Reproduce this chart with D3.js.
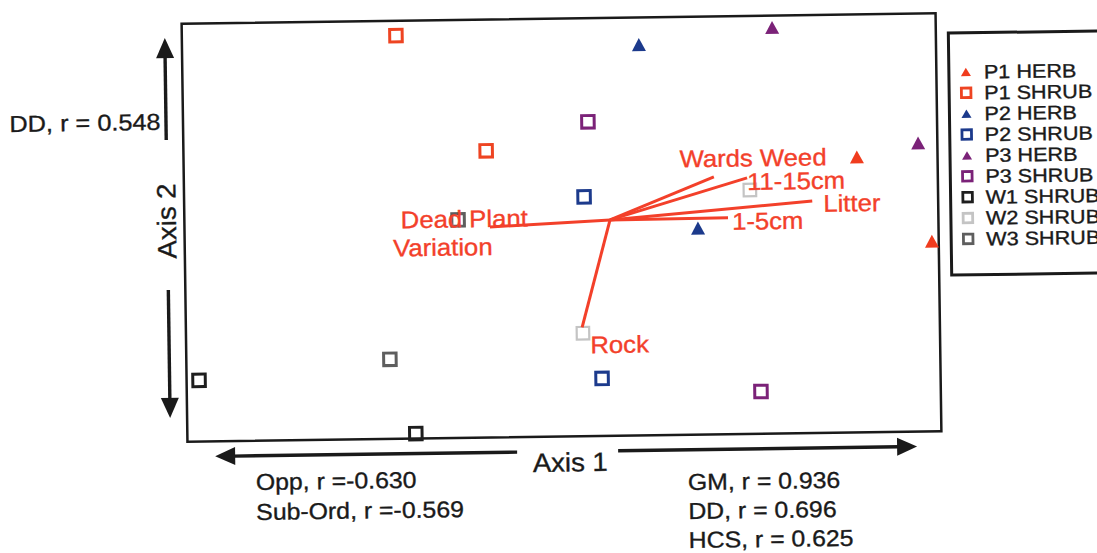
<!DOCTYPE html>
<html>
<head>
<meta charset="utf-8">
<script src="https://cdn.jsdelivr.net/npm/d3@7"></script>
<style>
  html, body { margin: 0; padding: 0; background: #fff; }
  svg { display: block; font-family: "Liberation Sans", Arial, Helvetica, sans-serif; }
</style>
</head>
<body>
<svg id="chart" width="1097" height="553"></svg>
<script>
// ---- Groups (legend order) ----
const groups = ["P1 HERB", "P1 SHRUB", "P2 HERB", "P2 SHRUB", "P3 HERB", "P3 SHRUB", "W1 SHRUB", "W2 SHRUB", "W3 SHRUB"];
const groupColors = ["#f03c1e", "#ee4422", "#1c3a8c", "#1c3a8c", "#7b2278", "#7b2278", "#1e1e1e", "#c4c4c4", "#5e5e5e"];
const groupShapes = ["triangle", "square", "triangle", "square", "triangle", "square", "square", "square", "square"];

// ---- Sample scores on the two ordination axes ----
const sampleGroup = ["P1 HERB", "P1 HERB", "P1 SHRUB", "P1 SHRUB", "P2 HERB", "P2 HERB", "P2 SHRUB", "P2 SHRUB",
                     "P3 HERB", "P3 HERB", "P3 SHRUB", "P3 SHRUB", "W1 SHRUB", "W1 SHRUB", "W3 SHRUB", "W3 SHRUB",
                     "W2 SHRUB", "W2 SHRUB"];
const axis1Scores = [0.786, 0.982, -0.432, -0.197, 0.212, 0.362, 0.061, 0.102,
                     0.566, 0.949, 0.074, 0.523, -0.967, -0.394, -0.460, -0.274,
                     0.501, 0.053];
const axis2Scores = [0.318, -0.090, 0.929, 0.372, 0.870, -0.012, 0.145, -0.725,
                     0.943, 0.381, 0.504, -0.798, -0.707, -0.976, -0.619, 0.043,
                     0.167, -0.507];

// ---- Joint-plot vectors (environmental variables) ----
const vectorNames = ["Dead Plant|Variation", "Rock", "1-5cm", "Litter", "11-15cm", "Wards Weed"];
const vectorAxis1 = [-0.190, 0.051, 0.442, 0.666, 0.494, 0.406];
const vectorAxis2 = [0.007, -0.479, 0.035, 0.110, 0.225, 0.232];
const vectorOrigin = [0.129, 0.033];

// ---- Axis correlation notes ----
const axis1NegNotes = ["Opp, r =-0.630", "Sub-Ord, r =-0.569"];
const axis1PosNotes = ["GM, r = 0.936", "DD, r = 0.696", "HCS, r = 0.625"];
const axis2PosNotes = ["DD, r = 0.548"];

// ---- Layout ----
const box = { x0: 184.5, x1: 938.5, y0: 18.5, y1: 436.5 };
const RED = "#f3402a";
const INK = "#1a1a1a";

const svg = d3.select("#chart");
// whole figure sits slightly tilted
const fig = svg.append("g").attr("transform", "rotate(-0.8, 561.5, 227.5)");

const x = d3.scaleLinear().domain([-1, 1]).range([box.x0, box.x1]);
const y = d3.scaleLinear().domain([-1, 1]).range([box.y1, box.y0]);

const colorOf = d3.scaleOrdinal().domain(groups).range(groupColors);
const shapeOf = d3.scaleOrdinal().domain(groups).range(groupShapes);

function text(parent, s, tx, ty, size, fill, opts = {}) {
  const sx = opts.sx || 1;
  const rot = opts.rotate || 0;
  return parent.append("text")
    .attr("transform", `translate(${tx},${ty}) rotate(${rot}) scale(${sx},1)`)
    .attr("font-size", size)
    .attr("fill", fill)
    .attr("stroke", fill)
    .attr("stroke-width", 0.35)
    .attr("text-anchor", opts.anchor || "start")
    .text(s);
}

function marker(parent, shape, cx, cy, color, size) {
  if (shape === "triangle") {
    const w = size.tw, h = size.th;
    parent.append("path")
      .attr("d", `M${cx},${cy - h / 2} L${cx + w / 2},${cy + h / 2} L${cx - w / 2},${cy + h / 2} Z`)
      .attr("fill", color);
  } else {
    const s = size.sq;
    parent.append("rect")
      .attr("x", cx - s / 2).attr("y", cy - s / 2)
      .attr("width", s).attr("height", s)
      .attr("fill", "none")
      .attr("stroke", color)
      .attr("stroke-width", size.sw);
  }
}

// ---- Plot frame ----
fig.append("rect")
  .attr("x", box.x0).attr("y", box.y0)
  .attr("width", box.x1 - box.x0).attr("height", box.y1 - box.y0)
  .attr("fill", "none").attr("stroke", INK).attr("stroke-width", 2.5);

// ---- Sample points ----
const samples = sampleGroup.map((g, i) => ({ g, a1: axis1Scores[i], a2: axis2Scores[i] }));
const ptLayer = fig.append("g");
samples.forEach(d => {
  const w2 = d.g === "W2 SHRUB";
  marker(ptLayer, shapeOf(d.g), x(d.a1), y(d.a2), colorOf(d.g),
         { tw: 14, th: 13, sq: 12.5, sw: w2 ? 2.2 : 3 });
});

// ---- Vectors ----
const vecLayer = fig.append("g");
vectorNames.forEach((n, i) => {
  vecLayer.append("line")
    .attr("x1", x(vectorOrigin[0])).attr("y1", y(vectorOrigin[1]))
    .attr("x2", x(vectorAxis1[i])).attr("y2", y(vectorAxis2[i]))
    .attr("stroke", RED).attr("stroke-width", 3);
});

// label placement relative to each vector tip (one entry per text line)
const labelOffsets = {
  "Dead Plant|Variation": [[-89, 0], [-97, 28]],
  "Rock": [[8, 26]],
  "1-5cm": [[4, 12]],
  "Litter": [[11, 11]],
  "11-15cm": [[0, 12]],
  "Wards Weed": [[-34, -10]]
};
vectorNames.forEach((n, i) => {
  const lines = n.split("|");
  const tipX = x(vectorAxis1[i]), tipY = y(vectorAxis2[i]);
  lines.forEach((s, k) => {
    const off = labelOffsets[n][k];
    text(vecLayer, s, tipX + off[0], tipY + off[1], 24, RED, { sx: 1.07 });
  });
});

// ---- Axis arrows ----
const arrows = fig.append("g").attr("fill", INK).attr("stroke", INK);
function arrowLine(x1, y1, x2, y2) {
  arrows.append("line").attr("x1", x1).attr("y1", y1).attr("x2", x2).attr("y2", y2)
    .attr("stroke-width", 3.4);
}
function arrowHead(tx, ty, dir) {
  const L = 20, H = 9;
  let pts;
  if (dir === "up") pts = [[tx, ty], [tx + H, ty + L], [tx - H, ty + L]];
  if (dir === "down") pts = [[tx, ty], [tx + H, ty - L], [tx - H, ty - L]];
  if (dir === "left") pts = [[tx, ty], [tx + L, ty - H], [tx + L, ty + H]];
  if (dir === "right") pts = [[tx, ty], [tx - L, ty - H], [tx - L, ty + H]];
  arrows.append("polygon").attr("points", pts.map(p => p.join(",")).join(" ")).attr("stroke", "none");
}
const vx = 167.5, hy = 451.5;
arrowLine(vx, 50, vx, 134.5);  arrowHead(vx, 32.5, "up");
arrowLine(vx, 284.5, vx, 395); arrowHead(vx, 412.5, "down");
arrowLine(230, hy, 514, hy);   arrowHead(212, hy, "left");
arrowLine(615, hy, 896, hy);   arrowHead(914, hy, "right");

// ---- Axis titles ----
text(fig, "Axis 1", 529.5, 471.5, 26.5, INK, { sx: 1.04 });
text(fig, "Axis 2", 176, 215.5, 26.5, INK, { sx: 1.04, rotate: -90, anchor: "middle" });

// ---- Correlation notes ----
axis2PosNotes.forEach((s, i) => text(fig, s, 11, 124.3 + i * 30, 23, INK, { sx: 1.1 }));
axis1NegNotes.forEach((s, i) => text(fig, s, 252.3, 485.7 + i * 30, 23, INK, { sx: 1.08 }));
axis1PosNotes.forEach((s, i) => text(fig, s, 684.3, 491.8 + i * 29, 23, INK, { sx: 1.08 }));

// ---- Legend ----
const leg = fig.append("g");
leg.append("rect")
  .attr("x", 951).attr("y", 38.5).attr("width", 180).attr("height", 242)
  .attr("fill", "none").attr("stroke", INK).attr("stroke-width", 3);
const legRow = d3.scalePoint().domain(groups).range([77.6, 244.6]);
groups.forEach(g => {
  const cy = legRow(g);
  marker(leg, shapeOf(g), 968, cy, colorOf(g), { tw: 10, th: 8.5, sq: 9.5, sw: 2.8 });
  text(leg, g, 986, cy + 6.8, 19.3, INK, { sx: 1.12 });
});
</script>
</body>
</html>
